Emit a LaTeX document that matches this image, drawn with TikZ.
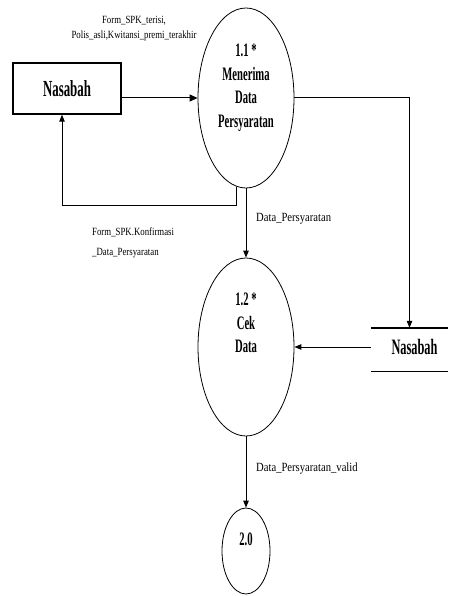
\documentclass[tikz,border=0pt]{standalone}
\usepackage{fontspec}
\setmainfont{Liberation Serif}
\newfontfamily\condf{Liberation Serif}[FakeStretch=0.56]
\newfontfamily\labf{Liberation Serif}[FakeStretch=0.8]
\newfontfamily\labg{Liberation Serif}[FakeStretch=0.85]
\usetikzlibrary{arrows.meta,shapes.geometric}
\tikzset{
  proc/.style={draw, ellipse, line width=0.8pt, inner sep=0pt},
  ptext/.style={align=center, font=\condf\bfseries\fontsize{19}{23.5}\selectfont, inner sep=0pt},
  ent/.style={draw, line width=1.4pt, minimum width=108pt, minimum height=51pt, inner sep=0pt,
    font=\condf\bfseries\fontsize{23}{26}\selectfont},
  flow/.style={line width=1pt, -{Triangle[length=7pt,width=5.5pt]}},
  lab/.style={font=\labf\fontsize{11}{15}\selectfont, inner sep=0pt},
  labb/.style={font=\labg\fontsize{12.5}{20}\selectfont, inner sep=0pt},
}
\begin{document}
\begin{tikzpicture}[x=1pt,y=-1pt]
\useasboundingbox (0,0) rectangle (448,596);
% processes
\node[proc, minimum width=96pt, minimum height=180pt] (e1) at (246,98) {};
\node[ptext] (e1t) at (246,88) {1.1 *\\Menerima\\Data\\Persyaratan};
\node[proc, minimum width=96pt, minimum height=178pt] (e2) at (246,347) {};
\node[ptext] (e2t) at (246,323) {1.2 *\\Cek\\Data};
\node[proc, minimum width=48pt, minimum height=86pt] (e3) at (246,551) {};
\node[ptext] (e3t) at (246,539) {2.0};
% external entity
\node[ent] (box) at (67,88.5) {Nasabah};
% data store
\node[inner sep=0pt, minimum width=77pt, minimum height=43pt] (store) at (409.5,349.5) {};
\node[inner sep=0pt, font=\condf\bfseries\fontsize{22}{26}\selectfont] (storet) at (414.5,347) {Nasabah};
\draw[line width=1.4pt] (store.north west) -- (store.north east);
\draw[line width=1.4pt] (store.south west) -- (store.south east);
% flows
\draw[line width=1pt, -{Triangle[length=8pt,width=7pt]}] (box.east |- e1.west) -- (e1.west);
\coordinate (r1) at (62,205);
\draw[flow] (e1.-96) |- (r1) -- (r1 |- box.south);
\draw[flow] (e1.east) -| (store.north);
\draw[flow] (e1.south) -- (e2.north);
\draw[flow] (store.west |- e2.east) -- (e2.east);
\draw[flow] (e2.south) -- (e3.north);
% labels
\node[lab, align=center] (l1) at (134,29) {Form\_SPK\_terisi,\\Polis\_asli,Kwitansi\_premi\_terakhir};
\node[labb, anchor=west] (l2) at (256,219) {Data\_Persyaratan};
\node[lab, align=left, anchor=west, font=\labf\fontsize{11}{20}\selectfont] (l3) at (92,243) {Form\_SPK.Konfirmasi\\\_Data\_Persyaratan};
\node[labb, anchor=west] (l4) at (256,469) {Data\_Persyaratan\_valid};
\end{tikzpicture}
\end{document}
